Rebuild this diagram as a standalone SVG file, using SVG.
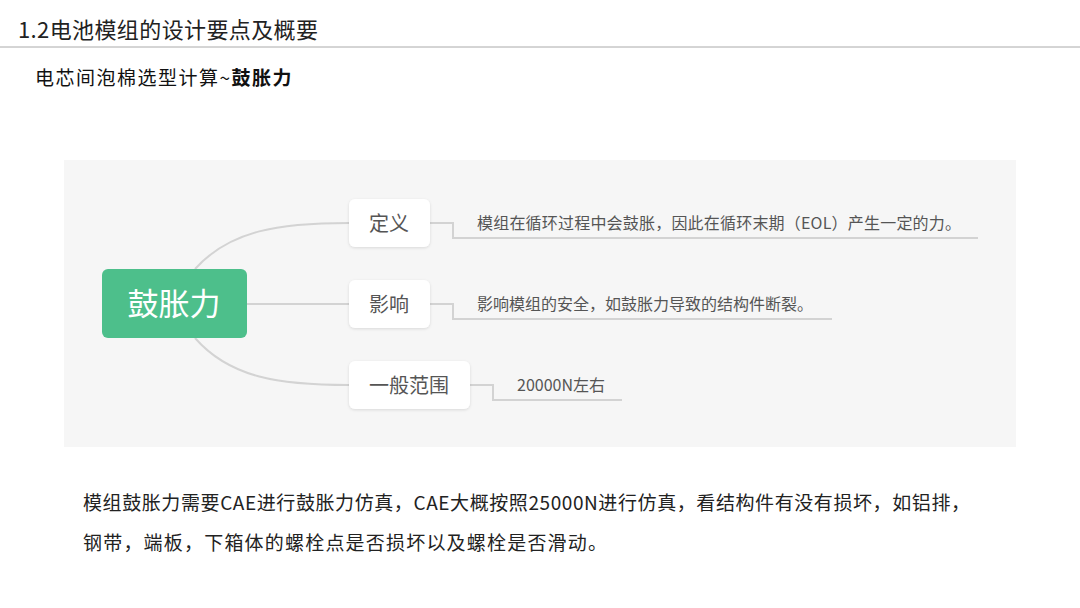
<svg xmlns="http://www.w3.org/2000/svg" width="1080" height="608" viewBox="0 0 1080 608">
<defs>
<style>
.cjk{font-family:"Noto Sans CJK SC","Noto Sans",sans-serif}
.node{fill:#fff}
.ntxt{font-size:20px;fill:#555;text-anchor:middle}
.leaf{font-size:16px;fill:#555}
.conn{fill:none;stroke:#d3d3d3;stroke-width:2}
</style>
<filter id="sh" x="-20%" y="-20%" width="140%" height="160%">
<feDropShadow dx="0" dy="1" stdDeviation="1.5" flood-color="#000" flood-opacity="0.12"/>
</filter>
</defs>
<rect width="1080" height="608" fill="#fff"/>
<text class="cjk" x="18" y="38" font-size="22" fill="#222" textLength="300" lengthAdjust="spacing">1.2电池模组的设计要点及概要</text>
<line x1="0" y1="47" x2="1080" y2="47" stroke="#aaa" stroke-width="1"/>
<text class="cjk" x="35" y="85" font-size="19" fill="#111" letter-spacing="1.5">电芯间泡棉选型计算~<tspan font-weight="bold">鼓胀力</tspan></text>
<rect x="64" y="160" width="952" height="287" fill="#f6f6f6"/>
<g id="connectors">
<path class="conn" d="M195,269 C230,230 280,223 349,223"/>
<path class="conn" d="M247,304 L349,304"/>
<path class="conn" d="M195,338 C230,378 280,385 349,385"/>
<path class="conn" d="M430,223 H453 V238 H978"/>
<path class="conn" d="M430,304 H453 V319 H832"/>
<path class="conn" d="M470,385 H493 V400 H622"/>
</g>
<g id="center">
<rect x="102" y="269" width="145" height="69" rx="6" fill="#4dbf8b"/>
<text class="cjk" x="174" y="315" font-size="31" fill="#fff" text-anchor="middle">鼓胀力</text>
</g>
<g id="n-def">
<rect class="node" x="349" y="199" width="81" height="48" rx="6" filter="url(#sh)"/>
<text class="cjk ntxt" x="389" y="231">定义</text>
</g>
<g id="n-eff">
<rect class="node" x="349" y="280" width="81" height="48" rx="6" filter="url(#sh)"/>
<text class="cjk ntxt" x="389" y="312">影响</text>
</g>
<g id="n-range">
<rect class="node" x="349" y="361" width="121" height="48" rx="6" filter="url(#sh)"/>
<text class="cjk ntxt" x="409" y="393">一般范围</text>
</g>
<g id="leaf-def"><text class="cjk leaf" x="477" y="229" letter-spacing="0.2">模组在循环过程中会鼓胀，因此在循环末期（EOL）产生一定的力。</text></g>
<g id="leaf-eff"><text class="cjk leaf" x="477" y="310">影响模组的安全，如鼓胀力导致的结构件断裂。</text></g>
<g id="leaf-range"><text class="cjk leaf" x="517" y="391">20000N左右</text></g>
<text class="cjk" x="83" y="510" font-size="19" fill="#222" textLength="887" lengthAdjust="spacing">模组鼓胀力需要CAE进行鼓胀力仿真，CAE大概按照25000N进行仿真，看结构件有没有损坏，如铝排，</text>
<text class="cjk" x="83" y="550" font-size="19" fill="#222" letter-spacing="1.2">钢带，端板，下箱体的螺栓点是否损坏以及螺栓是否滑动。</text>
</svg>
